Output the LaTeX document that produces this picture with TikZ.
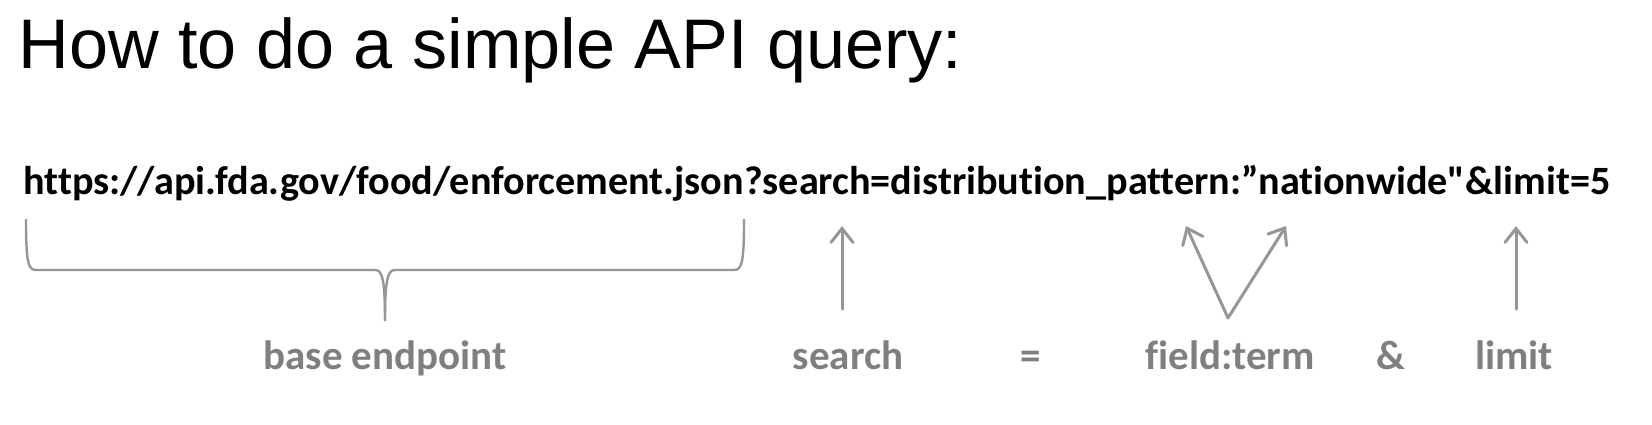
\documentclass[tikz,border=0pt]{standalone}
\usepackage{fontspec}
\setmainfont{Liberation Sans}
\newfontfamily\calibri[Ligatures={ResetAll,NoCommon}]{Carlito}
\usetikzlibrary{positioning,arrows.meta}
\definecolor{linegray}{RGB}{150,150,150}
\definecolor{labelgray}{RGB}{127,127,127}

\begin{document}
\begin{tikzpicture}[x=0.5pt,y=-0.5pt,
  headline/.style={anchor=base west,inner sep=0pt,font=\fontsize{35.1}{40}\selectfont},
  query/.style={anchor=base west,inner sep=0pt,font=\calibri\bfseries\fontsize{20.1}{24}\selectfont},
  part/.style={anchor=base,inner sep=0pt,text=labelgray,font=\calibri\bfseries\fontsize{20.5}{24}\selectfont},
  ptr/.style={draw=linegray,line width=1.5pt,line cap=round,-{Straight Barb[length=7pt,width=11pt,line cap=round]}},
  brace/.style={draw=linegray,line width=1.2pt}]
\useasboundingbox (0,0) rectangle (1652,424);

% title and the query
\node[headline] (title) at (18,68) {How to do a simple API query:};
\node[query] (url) at (23,194) {https://api.fda.gov/food/enforcement.json?search=distribution\_pattern:”nationwide"\&limit=5};

% labels
\node[part] (base)   at (385,369)  {base endpoint};
\node[part] (search) at (848,369)  {search};
\node[part] (equals) at (1031,369) {=};
\node[part] (field)  at (1230,369) {field:term};
\node[part] (amp)    at (1391,369) {\&};
\node[part] (limit)  at (1514,369) {limit};

% brace under the base endpoint
\coordinate (bl) at (26,219);
\coordinate (br) at (744,219);
\coordinate (bm) at (385,321);
\draw[brace] (bl) .. controls (26,262) and (28,270) .. (36,270) -- (375,270)
  .. controls (382,270) and (385,278) .. (bm);
\draw[brace] (br) .. controls (744,262) and (742,270) .. (734,270) -- (395,270)
  .. controls (388,270) and (385,278) .. (bm);

% arrows
\coordinate (s0) at (842,309);
\coordinate (s1) at (842,226);
\coordinate (f0) at (1228,318);
\coordinate (f1) at (1186,226);
\coordinate (f2) at (1286,226);
\coordinate (l0) at (1516,309);
\coordinate (l1) at (1516,226);
\draw[ptr] (s0) -- (s1);
\draw[ptr] (f0) -- (f1);
\draw[ptr] (f0) -- (f2);
\draw[ptr] (l0) -- (l1);
\end{tikzpicture}
\end{document}
